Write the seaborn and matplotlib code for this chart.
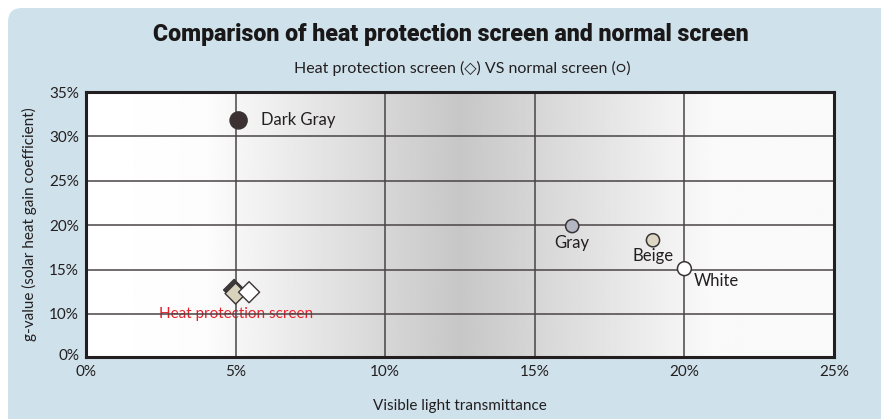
import numpy as np
import pandas as pd
import matplotlib.pyplot as plt
import matplotlib.transforms as mtransforms
import seaborn as sns
from matplotlib.patches import FancyBboxPatch

# normal screens (circles)
normal_names = ["Dark Gray", "Gray", "Beige", "White"]
normal_vlt = [5.1, 16.25, 18.95, 20.0]
normal_g = [31.8, 19.9, 18.3, 15.1]
normal_colors = ["#3b3133", "#b3b6c3", "#ddd6c2", "#ffffff"]
normal_sizes = [150, 90, 90, 100]

# heat protection screens (diamonds)
heat_names = ["Dark Gray", "Beige", "White"]
heat_vlt = [4.95, 5.0, 5.45]
heat_g = [12.7, 12.3, 12.45]
heat_colors = ["#3e3a3a", "#d9d2bd", "#ffffff"]

x_ticks = [0, 5, 10, 15, 20, 25]
x_ticklabels = ["0%", "5%", "10%", "15%", "20%", "25%"]
y_ticks = [5.15, 10, 15, 20, 25, 30, 35]
y_ticklabels = ["0%", "10%", "15%", "20%", "25%", "30%", "35%"]

# background shading profile (transmittance %, brightness)
shade_x = [0, 4, 12.5, 21, 25]
shade_v = [1.0, 0.99, 0.78, 0.98, 0.98]

normal = pd.DataFrame({"name": normal_names, "vlt": normal_vlt, "g": normal_g})
heat = pd.DataFrame({"name": heat_names, "vlt": heat_vlt, "g": heat_g})

sns.set_style("white")
plt.rcParams["font.family"] = ["Lato", "DejaVu Sans"]

W, H = 881, 419
fig = plt.figure(figsize=(W / 100, H / 100), dpi=100)

# light blue panel behind everything
bg = fig.add_axes([0, 0, 1, 1])
bg.set_xlim(0, W)
bg.set_ylim(0, H)
bg.axis("off")
bg.add_patch(FancyBboxPatch((8, -30), W + 30, H - 8 + 30,
                            boxstyle="round,pad=0,rounding_size=14",
                            fc="#cfe1ea", ec="none"))

ax = fig.add_axes([86 / W, 1 - 357 / H, (834 - 86) / W, (357 - 92) / H])

xs = np.linspace(0, 25, 500)
shade = np.interp(xs, shade_x, shade_v)
ax.imshow(np.tile(shade, (2, 1)), cmap="gray", vmin=0, vmax=1, aspect="auto",
          extent=[0, 25, y_ticks[0], 35], zorder=0)

for v in x_ticks[1:-1]:
    ax.axvline(v, color="#4a4446", lw=1.1, zorder=1)
for v in y_ticks[1:-1]:
    ax.axhline(v, color="#4a4446", lw=1.1, zorder=1)

sns.scatterplot(data=normal, x="vlt", y="g", hue="name", palette=normal_colors,
                size="name", sizes=dict(zip(normal_names, normal_sizes)),
                edgecolor="#3a3436", linewidth=1.1, legend=False, ax=ax, zorder=3)
sns.scatterplot(data=heat, x="vlt", y="g", hue="name", palette=heat_colors,
                marker="D", s=115, edgecolor="#3a3436", linewidth=1.0,
                legend=False, ax=ax, zorder=3)

lab = dict(fontsize=12, color="#231f20")
ax.text(normal_vlt[0] + 0.75, normal_g[0], "Dark Gray", ha="left", va="center", **lab)
ax.text(normal_vlt[1], normal_g[1] - 1.0, "Gray", ha="center", va="top", **lab)
ax.text(normal_vlt[2], normal_g[2] - 0.9, "Beige", ha="center", va="top", **lab)
ax.text(normal_vlt[3] + 0.3, normal_g[3] - 0.5, "White", ha="left", va="top", **lab)
ax.text(5.0, 10.0, "Heat protection screen", ha="center", va="center",
        fontsize=11, color="#e8212b", zorder=0.5)

ax.set_xlim(0, 25)
ax.set_ylim(y_ticks[0], 35)
ax.set_xticks(x_ticks)
ax.set_xticklabels(x_ticklabels)
ax.set_yticks(y_ticks)
ax.set_yticklabels(y_ticklabels)
ax.tick_params(axis="x", length=0, labelsize=11, labelcolor="#231f20", pad=6)
ax.tick_params(axis="y", length=0, labelsize=11, labelcolor="#231f20", pad=5)
y0 = ax.get_yticklabels()[0]
y0.set_transform(y0.get_transform() + mtransforms.ScaledTranslation(0, 0.03, fig.dpi_scale_trans))
for s in ax.spines.values():
    s.set_color("#231f20")
    s.set_linewidth(2.2)
ax.set_xlabel("Visible light transmittance", fontsize=11, color="#231f20", labelpad=14)
ax.set_ylabel("g-value (solar heat gain coefficient)", fontsize=11,
              color="#231f20", labelpad=9)

fig.text(451 / W, 1 - 35 / H, "Comparison of heat protection screen and normal screen",
         ha="center", va="center", fontsize=16.7, fontweight="heavy", color="#1a1718",
         family=["Roboto", "DejaVu Sans"])
fig.text(462 / W, 1 - 68 / H, "Heat protection screen (\u25C7) VS normal screen (\u25CB)",
         ha="center", va="center", fontsize=11.5, color="#231f20",
         family=["Lato", "DejaVu Sans"])

fig.savefig("out.png", dpi=100)
